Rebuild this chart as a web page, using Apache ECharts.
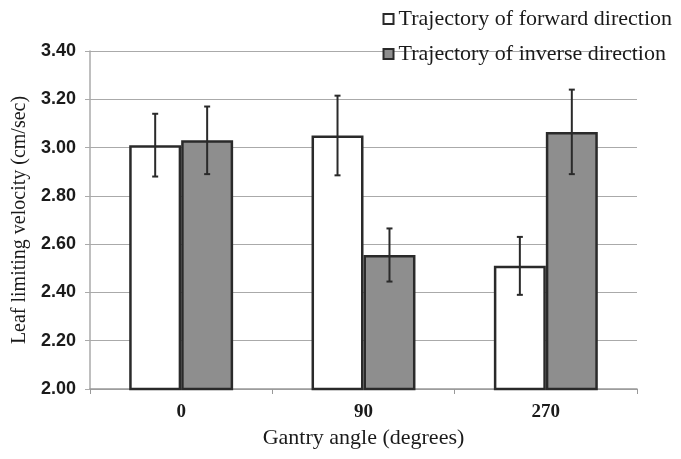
<!DOCTYPE html>
<html>
<head>
<meta charset="utf-8">
<script src="https://cdn.jsdelivr.net/npm/echarts@6/dist/echarts.min.js"></script>
<style>
html,body{margin:0;padding:0;background:#fff;}
#chart{width:681px;height:459px;}
</style>
</head>
<body>
<div id="chart"></div>
<script>
const categories = ['0', '90', '270'];
const forwardValues = [3.01, 3.05, 2.51];
const forwardErrors = [0.13, 0.165, 0.12];
const inverseValues = [3.03, 2.555, 3.065];
const inverseErrors = [0.14, 0.11, 0.175];
const yMin = 2.0, yMax = 3.4, yInterval = 0.2;

const BAR_FRAC = 0.285;
const serif = 'Liberation Serif';
const sans = 'Liberation Sans';

function errorSeries(values, errors, side) {
  return {
    type: 'custom',
    z: 10,
    silent: true,
    data: values.map((v, i) => [i, v, errors[i]]),
    renderItem: function (params, api) {
      const idx = api.value(0), v = api.value(1), e = api.value(2);
      const band = api.size([1, 0])[0];
      const c = api.coord([idx, v]);
      const x = c[0] + side * band * BAR_FRAC / 2;
      const hi = api.coord([idx, v + e])[1];
      const lo = api.coord([idx, v - e])[1];
      const cap = 3;
      const st = { stroke: '#2a2a2a', lineWidth: 2 };
      return {
        type: 'group',
        children: [
          { type: 'line', shape: { x1: x, y1: hi, x2: x, y2: lo }, style: st },
          { type: 'line', shape: { x1: x - cap, y1: hi, x2: x + cap, y2: hi }, style: st },
          { type: 'line', shape: { x1: x - cap, y1: lo, x2: x + cap, y2: lo }, style: st }
        ]
      };
    }
  };
}

const chart = echarts.init(document.getElementById('chart'));
chart.setOption({
  animation: false,
  backgroundColor: '#fff',
  textStyle: { fontFamily: serif, color: '#1a1a1a' },
  legend: {
    orient: 'vertical',
    right: 4,
    top: 3,
    itemGap: 13,
    itemWidth: 10,
    itemHeight: 10,
    icon: 'rect',
    textStyle: { fontFamily: serif, fontSize: 22, color: '#1a1a1a' },
    data: [
      { name: 'Trajectory of forward direction' },
      { name: 'Trajectory of inverse direction' }
    ]
  },
  grid: { left: 90, right: 44, top: 51, bottom: 70, containLabel: false },
  xAxis: {
    type: 'category',
    data: categories,
    name: 'Gantry angle (degrees)',
    nameLocation: 'middle',
    nameGap: 36,
    nameTextStyle: { fontFamily: serif, fontSize: 22, color: '#1a1a1a' },
    axisLine: { lineStyle: { color: '#999', width: 1.5 } },
    axisTick: { show: true, alignWithLabel: false, length: 5, lineStyle: { color: '#999' } },
    axisLabel: { fontFamily: serif, fontSize: 19, fontWeight: 'bold', color: '#1a1a1a', margin: 14 }
  },
  yAxis: {
    type: 'value',
    min: yMin,
    max: yMax,
    interval: yInterval,
    name: 'Leaf limiting velocity (cm/sec)',
    nameLocation: 'middle',
    nameGap: 53,
    nameTextStyle: { fontFamily: serif, fontSize: 20, color: '#1a1a1a' },
    axisLine: { show: true, lineStyle: { color: '#aaa', width: 1.5 } },
    axisTick: { show: true, length: 5, lineStyle: { color: '#aaa' } },
    axisLabel: { fontFamily: sans, fontSize: 18, fontWeight: 'bold', color: '#1a1a1a', margin: 14, formatter: v => v.toFixed(2) },
    splitLine: { show: true, lineStyle: { color: '#aaa', width: 1.2 } }
  },
  series: [
    {
      name: 'Trajectory of forward direction',
      type: 'bar',
      data: forwardValues,
      barWidth: (BAR_FRAC * 100) + '%',
      barGap: '0%',
      itemStyle: { color: '#ffffff', borderColor: '#2a2a2a', borderWidth: 2.5 }
    },
    {
      name: 'Trajectory of inverse direction',
      type: 'bar',
      data: inverseValues,
      barWidth: (BAR_FRAC * 100) + '%',
      barGap: '0%',
      itemStyle: { color: '#8e8e8e', borderColor: '#2a2a2a', borderWidth: 2.5 }
    },
    errorSeries(forwardValues, forwardErrors, -1),
    errorSeries(inverseValues, inverseErrors, 1)
  ]
});
</script>
</body>
</html>
